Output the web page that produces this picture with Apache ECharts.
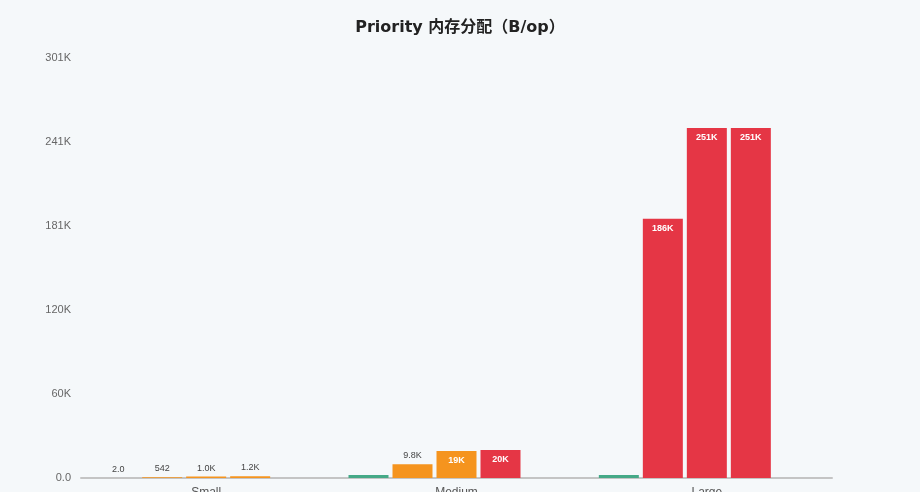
<!DOCTYPE html>
<html>
<head>
<meta charset="utf-8">
<script src="https://cdn.jsdelivr.net/npm/echarts@6/dist/echarts.min.js"></script>
<style>
html,body{margin:0;padding:0;background:#f5f8fa;}
#c{width:920px;height:492px;}
</style>
</head>
<body>
<div id="c"></div>
<script>
const titleText = 'Priority 内存分配（B/op）';
const categories = ['Small', 'Medium', 'Large'];
const seriesA = [2.0, 2100, 2100];
const seriesB = [542, 9800, 186000];
const seriesC = [1024, 19400, 251000];
const seriesD = [1200, 20100, 251000];
const seriesE = [null, null, null];
const showLabelA = [true, false, false];

const GREEN = '#45a987', ORANGE = '#f5941e', RED = '#e53645';

function fmt(v) {
  if (v >= 1e4) return (v / 1e3).toFixed(0) + 'K';
  if (v >= 1e3) return (v / 1e3).toFixed(1) + 'K';
  if (v >= 100) return v.toFixed(0);
  return v.toFixed(1);
}
const maxVal = Math.max(...seriesA, ...seriesB, ...seriesC, ...seriesD) * 1.2;

function items(arr, colorFn, showArr) {
  return arr.map((v, i) => {
    if (v == null) return null;
    const tall = v / maxVal * 420 > 22;
    const show = showArr ? showArr[i] : true;
    return {
      value: v,
      itemStyle: { color: colorFn(v) },
      label: tall ? {
        show: show, position: 'insideTop', color: '#fff', fontWeight: 'bold', fontSize: 9, distance: 5
      } : {
        show: show, position: 'top', color: '#444', fontSize: 9, distance: 4
      }
    };
  });
}
const valColor = v => v >= 20000 ? RED : ORANGE;

const common = { type: 'bar', barWidth: 40, barGap: '10%', label: { formatter: p => fmt(p.value) } };

const chart = echarts.init(document.getElementById('c'));
chart.setOption({
  backgroundColor: '#f5f8fa',
  animation: false,
  title: {
    text: titleText, left: 'center', top: 15,
    textStyle: { fontSize: 16, fontWeight: 'bold', color: '#222', fontFamily: 'DejaVu Sans, Noto Sans CJK SC, sans-serif' }
  },
  grid: { left: 81, right: 88, top: 58, bottom: 14, containLabel: false, outerBoundsMode: 'none' },
  xAxis: {
    type: 'category', data: categories,
    axisLine: { lineStyle: { color: '#c4c4c4', width: 2 } },
    axisTick: { show: false },
    axisLabel: { color: '#555', fontSize: 12, margin: 9 }
  },
  yAxis: {
    type: 'value', min: 0, max: maxVal, interval: maxVal / 5,
    splitLine: { show: false },
    axisLine: { show: false }, axisTick: { show: false },
    axisLabel: { color: '#666', fontSize: 11, margin: 10, formatter: v => fmt(v) }
  },
  series: [
    Object.assign({}, common, { name: 'A', data: items(seriesA, () => GREEN, showLabelA) }),
    Object.assign({}, common, { name: 'B', data: items(seriesB, valColor) }),
    Object.assign({}, common, { name: 'C', data: items(seriesC, valColor) }),
    Object.assign({}, common, { name: 'D', data: items(seriesD, valColor) }),
    Object.assign({}, common, { name: 'E', data: seriesE })
  ]
});
</script>
</body>
</html>
